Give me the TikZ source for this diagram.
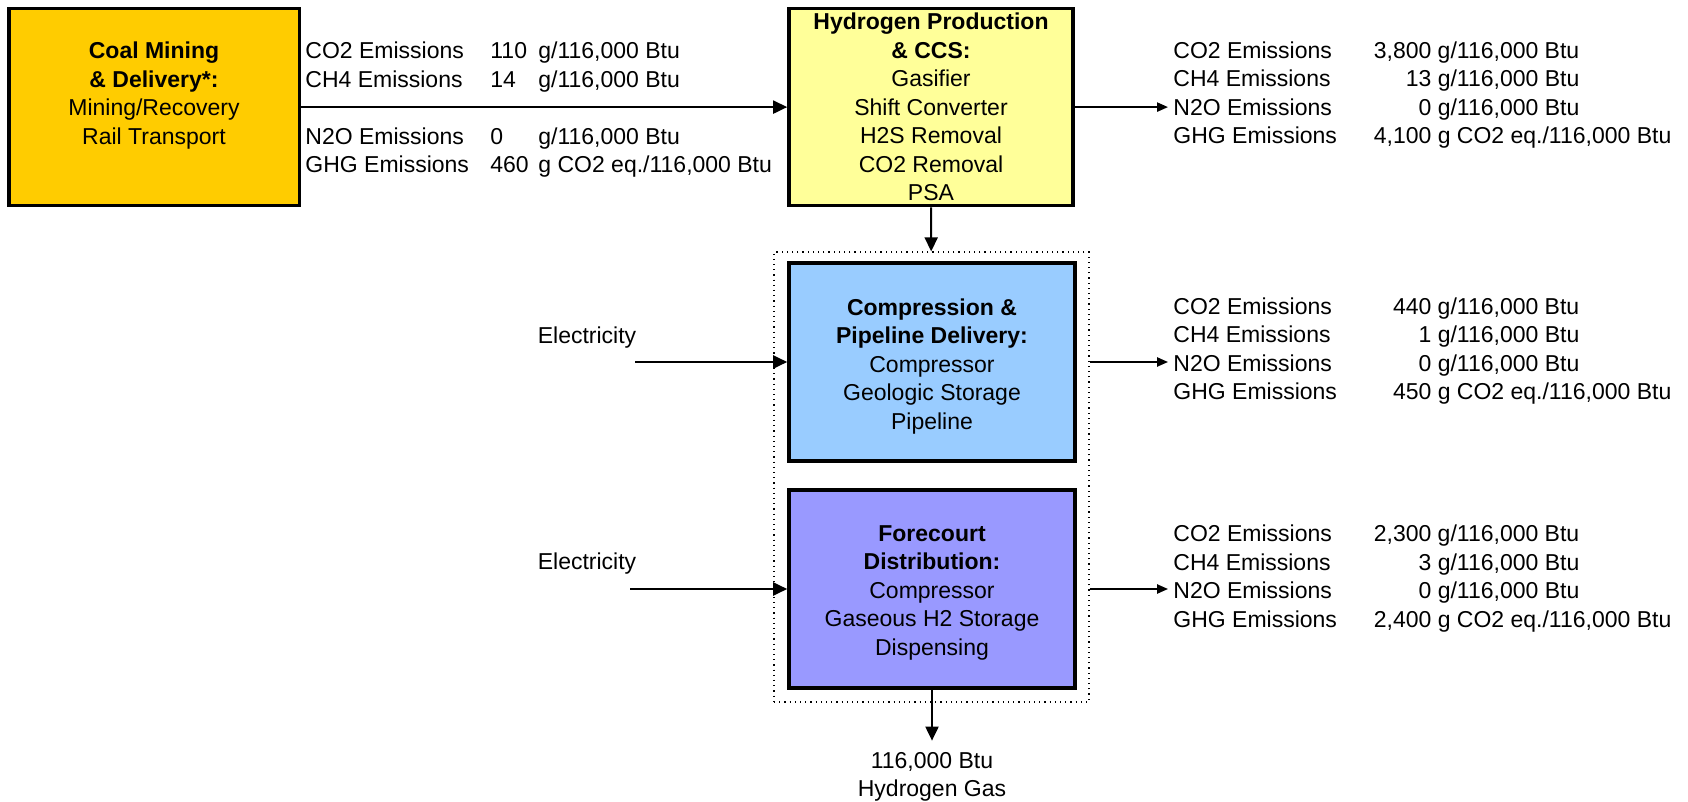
\documentclass[tikz,border=0pt]{standalone}
\usepackage{fontspec}
\setmainfont{Liberation Sans}
\usetikzlibrary{arrows.meta}
\definecolor{coalc}{HTML}{FFCC00}
\definecolor{h2c}{HTML}{FFFF99}
\definecolor{bluec}{HTML}{99CCFF}
\definecolor{purpc}{HTML}{9999FF}
\newcommand{\emrowL}[3]{\makebox[92.5pt][l]{#1}\makebox[24pt][l]{#2}#3}
\newcommand{\emrowR}[3]{\makebox[129pt][l]{#1\hfill#2}\ #3}
\tikzset{
  txt/.style={font=\fontsize{11.5}{14.25}\selectfont, inner sep=0pt},
  stagebox/.style={draw, line width=1.8pt, inner sep=0pt, align=center, font=\fontsize{11.5}{14.25}\selectfont},
  emis/.style={txt, align=left, anchor=west},
  arr/.style={line width=1pt, -{Triangle[length=7pt,width=6.5pt]}},
  arrsm/.style={line width=0.9pt, -{Triangle[length=5.5pt,width=4.6pt]}},
  grpbox/.style={draw, dotted, line width=0.6pt, inner sep=0pt}
}
\begin{document}
\begin{tikzpicture}[x=0.5pt, y=-0.5pt]
\useasboundingbox (0,0) rectangle (1688,802);
% stages
\node[stagebox, fill=coalc, minimum width=145.3pt, minimum height=98.5pt] (coal) at (154,107.1) {};
\node[txt, align=center] (coaltxt) at (154,95.7) {\textbf{Coal Mining}\\\textbf{\& Delivery*:}\\Mining/Recovery\\Rail Transport};
\node[stagebox, fill=h2c, minimum width=142pt, minimum height=98.5pt] (h2) at (931,107.1)
  {\textbf{Hydrogen Production}\\\textbf{\& CCS:}\\Gasifier\\Shift Converter\\H2S Removal\\CO2 Removal\\PSA};
\node[grpbox, minimum width=157.5pt, minimum height=225pt] (grp) at (931.5,477) {};
\node[stagebox, fill=bluec, minimum width=143pt, minimum height=99pt] (blue) at (932,362)
  {\rule{0pt}{12.6pt}\textbf{Compression \&}\\\textbf{Pipeline Delivery:}\\Compressor\\Geologic Storage\\Pipeline};
\node[stagebox, fill=purpc, minimum width=143pt, minimum height=99pt] (purp) at (932,589)
  {\rule{0pt}{11.6pt}\textbf{Forecourt}\\\textbf{Distribution:}\\Compressor\\Gaseous H2 Storage\\Dispensing};
\node[txt, align=center] (out) at (932,776.7) {116,000 Btu\\Hydrogen Gas};
% electricity
\node[txt] (elec1) at (587,337.2) {Electricity};
\node[txt] (elec2) at (587,563.2) {Electricity};
\coordinate (e1) at (635,362);
\coordinate (e2) at (630,589);
% emissions
\node[emis] (ltop) at (305,109.9) {\emrowL{CO2 Emissions}{110}{g/116,000 Btu}\\\emrowL{CH4 Emissions}{14}{g/116,000 Btu}\\[14.25pt]\emrowL{N2O Emissions}{0}{g/116,000 Btu}\\\emrowL{GHG Emissions}{460}{g CO2 eq./116,000 Btu}};
\node[emis] (rtop) at (1173,95.3) {\emrowR{CO2 Emissions}{3,800}{g/116,000 Btu}\\\emrowR{CH4 Emissions}{13}{g/116,000 Btu}\\\emrowR{N2O Emissions}{0}{g/116,000 Btu}\\\emrowR{GHG Emissions}{4,100}{g CO2 eq./116,000 Btu}};
\node[emis] (rmid) at (1173,351.2) {\emrowR{CO2 Emissions}{440}{g/116,000 Btu}\\\emrowR{CH4 Emissions}{1}{g/116,000 Btu}\\\emrowR{N2O Emissions}{0}{g/116,000 Btu}\\\emrowR{GHG Emissions}{450}{g CO2 eq./116,000 Btu}};
\node[emis] (rlow) at (1173,578.6) {\emrowR{CO2 Emissions}{2,300}{g/116,000 Btu}\\\emrowR{CH4 Emissions}{3}{g/116,000 Btu}\\\emrowR{N2O Emissions}{0}{g/116,000 Btu}\\\emrowR{GHG Emissions}{2,400}{g CO2 eq./116,000 Btu}};
% connectors
\draw[arr] (coal) -- (h2);
\draw[arrsm, shorten >=2.5pt] (h2.east) -- (h2.east -| rtop.west);
\draw[arr] (h2) -- (grp);
\draw[arr] (e1) -- (blue);
\draw[arr] (e2) -- (purp);
\draw[arrsm, shorten >=2.5pt] (grp.east |- blue.east) -- (blue.east -| rmid.west);
\draw[arrsm, shorten >=2.5pt] (grp.east |- purp.east) -- (purp.east -| rlow.west);
\draw[arr, shorten >=5.5pt] (purp) -- (out);
\end{tikzpicture}
\end{document}
